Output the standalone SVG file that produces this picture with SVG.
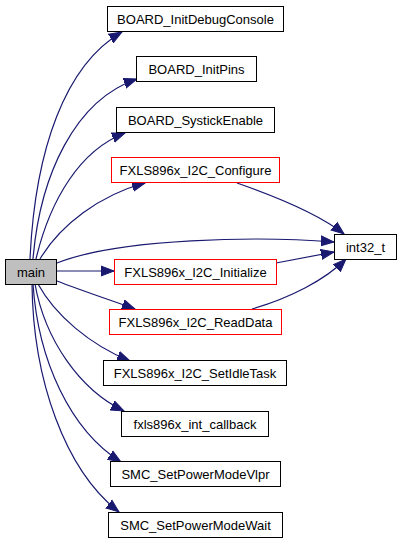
<svg xmlns="http://www.w3.org/2000/svg" width="401" height="544" viewBox="0 0 401 544">
<style>
.n rect{fill:#fff;stroke:#000;stroke-width:1}
.n.r rect{stroke:#ff0000}
.n.m rect{fill:#bfbfbf}
.n text{font-family:"Liberation Sans",Arial,sans-serif;font-size:13px;text-anchor:middle;fill:#000}
#edges path{fill:none;stroke:#191970;stroke-width:1.2;marker-end:url(#a)}
</style>
<defs>
<marker id="a" markerUnits="userSpaceOnUse" markerWidth="14" markerHeight="12" viewBox="0 0 14 12" refX="13" refY="6" orient="auto">
<path d="M0,1 L13,6 L0,11 Z" fill="#191970" stroke="#191970"/>
</marker>
</defs>
<rect width="401" height="544" fill="#fff"/>
<g id="edges">
<path d="M30,259 C35,150 65,65 122,32"/>
<path d="M33,259 C40,175 75,100 137,79"/>
<path d="M36,259 C50,200 80,150 125,133"/>
<path d="M40,259 C60,225 100,195 145,183"/>
<path d="M57,263 C120,238 260,236 334,242"/>
<path d="M57,271 L114,271"/>
<path d="M57,281 C80,290 110,300 135,309"/>
<path d="M38,284 C55,315 90,345 130,361"/>
<path d="M35,284 C45,340 80,390 124,411"/>
<path d="M33,284 C38,360 70,430 121,462"/>
<path d="M32,284 C33,380 65,470 119,512"/>
<path d="M237,183 C280,198 320,215 344,234"/>
<path d="M276,263 L334,252"/>
<path d="M252,309 C290,298 325,280 346,259"/>
</g>
<g id="main" class="n m"><rect x="5.5" y="259.5" width="51" height="25"/><text x="31" y="276.5">main</text></g>
<g id="BOARD_InitDebugConsole" class="n"><rect x="107.5" y="6.5" width="176" height="25"/><text x="195.5" y="23.5">BOARD_InitDebugConsole</text></g>
<g id="BOARD_InitPins" class="n"><rect x="136.5" y="56.5" width="120" height="25"/><text x="196.5" y="73.5">BOARD_InitPins</text></g>
<g id="BOARD_SystickEnable" class="n"><rect x="116.5" y="107.5" width="158" height="25"/><text x="195.5" y="124.5">BOARD_SystickEnable</text></g>
<g id="FXLS896x_I2C_Configure" class="n r"><rect x="111.5" y="157.5" width="168" height="25"/><text x="195.5" y="174.5">FXLS896x_I2C_Configure</text></g>
<g id="int32_t" class="n"><rect x="334.5" y="234.5" width="62" height="25"/><text x="365.5" y="251.5">int32_t</text></g>
<g id="FXLS896x_I2C_Initialize" class="n r"><rect x="114.5" y="259.5" width="162" height="25"/><text x="195.5" y="276.5">FXLS896x_I2C_Initialize</text></g>
<g id="FXLS896x_I2C_ReadData" class="n r"><rect x="109.5" y="309.5" width="172" height="25"/><text x="195.5" y="326.5">FXLS896x_I2C_ReadData</text></g>
<g id="FXLS896x_I2C_SetIdleTask" class="n"><rect x="103.5" y="360.5" width="183" height="25"/><text x="195" y="377.5">FXLS896x_I2C_SetIdleTask</text></g>
<g id="fxls896x_int_callback" class="n"><rect x="121.5" y="411.5" width="147" height="25"/><text x="195" y="428.5">fxls896x_int_callback</text></g>
<g id="SMC_SetPowerModeVlpr" class="n"><rect x="110.5" y="461.5" width="170" height="25"/><text x="195.5" y="478.5">SMC_SetPowerModeVlpr</text></g>
<g id="SMC_SetPowerModeWait" class="n"><rect x="108.5" y="512.5" width="174" height="25"/><text x="195.5" y="529.5">SMC_SetPowerModeWait</text></g>
</svg>
